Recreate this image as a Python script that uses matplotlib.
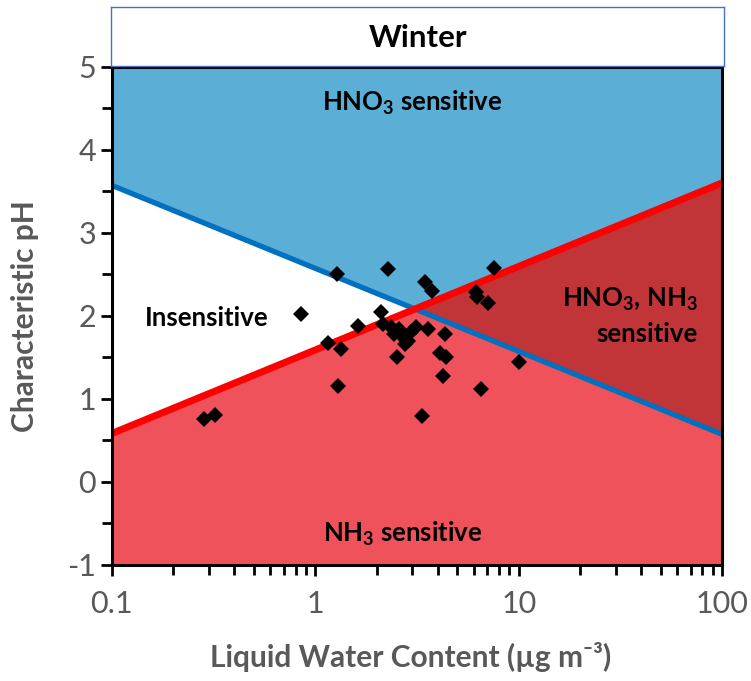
import matplotlib
matplotlib.use("Agg")
import matplotlib.pyplot as plt
import numpy as np

plt.rcParams['font.family'] = ['Lato', 'DejaVu Sans']
plt.rcParams['mathtext.fontset'] = 'custom'
plt.rcParams['mathtext.rm'] = 'Lato'
plt.rcParams['mathtext.bf'] = 'Lato:bold'
plt.rcParams['axes.unicode_minus'] = False

# boundary lines, pH at the two ends of the LWC axis
line_lwc = [0.1, 100]
hno3_line_ph = [3.57, 0.57]
nh3_line_ph = [0.58, 3.60]

# winter observations
lwc = [0.285, 0.32, 0.847, 1.28, 1.16, 1.34, 1.30, 1.63, 2.28, 2.10, 2.15,
       2.36, 2.57, 2.51, 2.75, 2.69, 2.95, 3.12, 3.36, 3.47, 3.76, 3.58,
       4.32, 4.08, 4.38, 4.24, 6.15, 6.27, 7.04, 7.55, 6.50, 10.07, 2.85, 2.45]
ph = [0.75, 0.80, 2.02, 2.50, 1.67, 1.60, 1.15, 1.88, 2.56, 2.04, 1.90,
      1.86, 1.84, 1.50, 1.66, 1.74, 1.80, 1.86, 0.79, 2.40, 2.30, 1.84,
      1.78, 1.55, 1.50, 1.27, 2.28, 2.22, 2.15, 2.58, 1.11, 1.44, 1.70, 1.78]

c_blue = '#5BAED6'
c_red = '#EF525A'
c_dark = '#C13538'
c_gray = '#595959'

fig = plt.figure(figsize=(7.51, 6.81), dpi=100)
ax = fig.add_axes([0.149, 0.171, 0.8125, 0.731])

xg = np.logspace(-1, 2, 600)
lg = np.log10(xg)
lx = np.log10(line_lwc)
yb = np.interp(lg, lx, hno3_line_ph)
yr = np.interp(lg, lx, nh3_line_ph)
hi = np.maximum(yb, yr)
lo = np.minimum(yb, yr)

ax.fill_between(xg, hi, 5, color=c_blue, lw=0)
ax.fill_between(xg, -1, lo, color=c_red, lw=0)
ax.fill_between(xg, lo, hi, where=yr >= yb, color=c_dark, lw=0, interpolate=True)
ax.fill_between(xg, lo, hi, where=yr < yb, color='white', lw=0, interpolate=True)

ax.plot(line_lwc, hno3_line_ph, color='#0070C0', lw=3.8, solid_capstyle='butt')
ax.plot(line_lwc, nh3_line_ph, color='#FF0000', lw=5, solid_capstyle='butt')
ax.plot(lwc, ph, 'D', color='black', ms=8, mew=0)

ax.set_xscale('log')
ax.set_xlim(0.1, 100)
ax.set_ylim(-1, 5)
ax.set_yticks(np.arange(-1, 6, 1))
ax.set_yticks(np.arange(-0.5, 5, 1), minor=True)
ax.set_xticks([0.1, 1, 10, 100])
ax.set_xticklabels(['0.1', '1', '10', '100'])
ax.tick_params(which='both', direction='out', width=2, color='black',
               labelsize=22, labelcolor=c_gray)
ax.tick_params(which='major', length=8)
ax.tick_params(which='minor', length=7)
ax.tick_params(axis='x', pad=10)
for s in ax.spines.values():
    s.set_linewidth(2.2)
    s.set_color('black')

ax.set_xlabel('Liquid Water Content (µg m⁻³)', fontsize=21.5,
              fontweight='bold', color=c_gray)
ax.set_ylabel('Characteristic pH', fontsize=21.5, fontweight='bold',
              color=c_gray)
ax.xaxis.label.set_va('center')
ax.yaxis.label.set_va('center')
ax.xaxis.set_label_coords(0.49, -0.186)
ax.yaxis.set_label_coords(-0.143, 0.5)

kw = dict(fontsize=18.5, fontweight='bold', color='black')
ax.text(0.492, 0.928, 'HNO$_{\\mathbf{3}}$ sensitive', transform=ax.transAxes,
        ha='center', va='center', **kw)
ax.text(0.155, 0.495, 'Insensitive', transform=ax.transAxes,
        ha='center', va='center', **kw)
ax.text(0.96, 0.499, 'HNO$_{\\mathbf{3}}$, NH$_{\\mathbf{3}}$\nsensitive',
        transform=ax.transAxes, ha='right', va='center', linespacing=1.45, **kw)
ax.text(0.477, 0.062, 'NH$_{\\mathbf{3}}$ sensitive', transform=ax.transAxes,
        ha='center', va='center', **kw)

tax = fig.add_axes([0.148, 0.903, 0.816, 0.087])
tax.set_xticks([])
tax.set_yticks([])
for s in tax.spines.values():
    s.set_color('#4472C4')
    s.set_linewidth(1)
tax.text(0.5, 0.48, 'Winter', ha='center', va='center', fontsize=22.5,
         fontweight='bold', color='black')

fig.savefig('out.png', dpi=100)
